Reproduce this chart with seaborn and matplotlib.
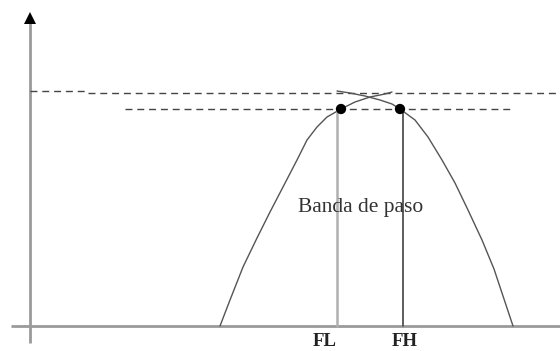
import matplotlib
matplotlib.use('Agg')
import matplotlib.pyplot as plt
import seaborn as sns
import pandas as pd

# schematic of a band-pass response
# (frequency axis f, gain axis g, origin at the axes crossing)
left_f = [190, 200, 213, 227, 240, 253, 267, 277, 287, 297, 311, 325, 340, 355, 362]
left_g = [0, 26, 59, 88, 114, 139, 166, 186, 199, 209, 217, 224, 229, 232, 234]
right_f = [307, 320, 335, 350, 362, 370, 385, 398, 412, 425, 438, 452, 464, 483]
right_g = [235, 233, 230, 226, 222, 217, 206, 189, 166, 143, 116, 86, 57, 0]

dots_f = [311, 370]
dots_g = [217, 217]

fl, fh = 307, 373
peak_level = 233
cut_level = 217
labels = ['FL', 'FH']
label_f = [295, 375]
band_text = 'Banda de paso'

sns.set_theme(style='white')
plt.rcParams['font.family'] = ['Liberation Serif', 'DejaVu Serif']

fig, ax = plt.subplots(figsize=(5.6, 3.51), dpi=100)
fig.subplots_adjust(left=0, right=1, bottom=0, top=1)

# axes
ax.plot([-19, 530], [0, 0], color='#9a9a9a', lw=2, solid_capstyle='butt')
ax.plot([0, 0], [-17, 306], color='#9a9a9a', lw=2, solid_capstyle='butt')
ax.plot([0], [308], marker='^', ms=8, color='black', mew=0)

# reference levels
ax.plot([0, 58], [peak_level + 2, peak_level + 2], color='#444444', lw=1, ls=(0, (5, 3.5)))
ax.plot([58, 530], [peak_level, peak_level], color='#444444', lw=1, ls=(0, (5, 3.5)))
ax.plot([95, 480], [cut_level, cut_level], color='#444444', lw=1, ls=(0, (5, 3.5)))

# response curve
curve_l = pd.DataFrame({'f': left_f, 'g': left_g})
curve_r = pd.DataFrame({'f': right_f, 'g': right_g})
sns.lineplot(data=curve_l, x='f', y='g', ax=ax, color='#555555', lw=1, sort=False)
sns.lineplot(data=curve_r, x='f', y='g', ax=ax, color='#555555', lw=1, sort=False)

# band edges
ax.plot([fl, fl], [0, cut_level], color='#b0b0b0', lw=1.8)
ax.plot([fh, fh], [0, cut_level], color='#505050', lw=1.3)
sns.scatterplot(x=dots_f, y=dots_g, ax=ax, color='black', s=55, edgecolor='none', zorder=5)

ax.text(268, 114, band_text, fontsize=15.5, color='#333333', ha='left', va='baseline')
for f, lab in zip(label_f, labels):
    ax.text(f, -20, lab, fontsize=13.5, fontweight='bold', color='#222222',
            ha='center', va='baseline')

ax.set_xlim(-30, 530)
ax.set_ylim(-25, 326)
ax.axis('off')

fig.savefig('out.png', dpi=100)
